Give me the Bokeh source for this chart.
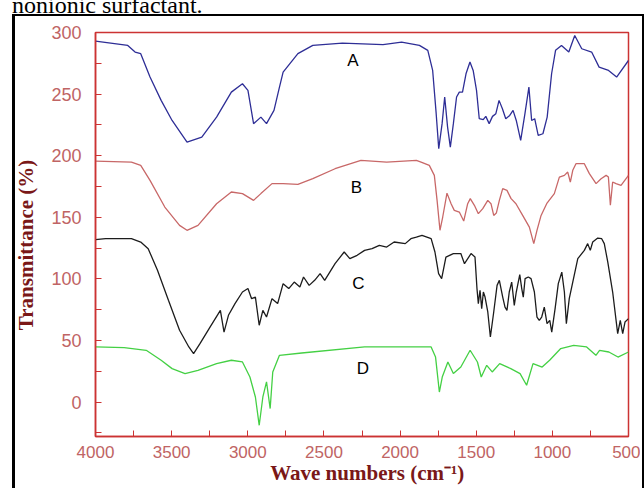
from bokeh.plotting import figure
from bokeh.models import Range1d, FixedTicker, ColumnDataSource, Div
from bokeh.layouts import column
from bokeh.embed import file_html
from bokeh.resources import INLINE

# ---- data ----
wA = [4000, 3788, 3740, 3703, 3642, 3569, 3497, 3399, 3302, 3205, 3108, 3035, 2999, 2962, 2914, 2877,
      2828, 2792, 2768, 2671, 2573, 2379, 2112, 1990, 1873, 1818, 1786, 1763, 1746, 1724, 1707, 1688,
      1670, 1650, 1629, 1611, 1590, 1567, 1541, 1520, 1498, 1480, 1454, 1437, 1415, 1393, 1371, 1350,
      1328, 1306, 1280, 1258, 1237, 1208, 1180, 1154, 1136, 1116, 1093, 1062, 1034, 1005, 979, 940,
      892, 853, 807, 742, 693, 631, 578, 500]
tA = [293, 289.5, 284.1, 282.8, 263.8, 244.9, 228.6, 211.0, 215.1, 231.3, 251.6, 258.4, 253.0, 226.0,
      231.3, 226.0, 236.8, 255.7, 267.8, 282.8, 289.5, 291.4, 290.1, 292.2, 289.5, 285.5, 269.2, 234.3,
      205.7, 226.0, 247.6, 223.2, 207.0, 226.0, 247.6, 251.6, 251.6, 266.5, 276.0, 269.2, 253.0, 230.0,
      229.2, 231.9, 226.0, 231.9, 234.1, 244.9, 238.1, 230.0, 232.7, 236.8, 228.6, 212.4, 234.1, 255.7,
      228.6, 230.0, 216.5, 217.8, 231.3, 266.5, 285.5, 289.5, 284.1, 297.6, 286.8, 284.1, 271.9, 269.2,
      263.8, 277.3]

wB = [4000, 3764, 3703, 3642, 3545, 3448, 3399, 3327, 3205, 3108, 3035, 2962, 2914, 2841, 2768, 2671,
      2573, 2427, 2257, 2088, 1893, 1862, 1808, 1775, 1757, 1738, 1720, 1692, 1665, 1644, 1611, 1582,
      1556, 1539, 1512, 1486, 1457, 1424, 1403, 1385, 1368, 1348, 1326, 1298, 1271, 1239, 1195, 1151,
      1122, 1101, 1074, 1035, 987, 954, 921, 899, 882, 866, 845, 790, 757, 713, 680, 647, 632, 619,
      604, 582, 549, 500]
tB = [195.6, 194.8, 192.1, 179.9, 158.3, 143.4, 139.4, 143.4, 161.0, 170.5, 169.2, 163.7, 169.2, 177.3,
      177.3, 176.7, 181.3, 189.4, 196.2, 194.8, 196.2, 194.8, 192.1, 184.0, 163.7, 139.4, 150.2, 169.6,
      161.0, 155.6, 154.2, 146.9, 161.0, 165.1, 159.7, 152.9, 157.0, 163.7, 161.0, 151.5, 153.4, 163.7,
      173.2, 171.8, 165.1, 161.0, 151.5, 142.0, 128.6, 139.4, 151.5, 161.5, 169.2, 182.6, 184.0, 186.7,
      178.6, 188.1, 193.5, 193.5, 185.4, 177.3, 181.3, 184.0, 182.6, 159.7, 178.6, 177.3, 175.9, 184.0]

wC = [4000, 3934, 3764, 3703, 3654, 3593, 3521, 3448, 3387, 3356, 3314, 3254, 3180, 3156, 3127, 3084,
      3035, 2999, 2975, 2950, 2925, 2901, 2877, 2841, 2804, 2768, 2731, 2695, 2658, 2634, 2597, 2561,
      2525, 2495, 2427, 2367, 2330, 2282, 2233, 2184, 2136, 2088, 2039, 1966, 1929, 1893, 1856, 1796,
      1771, 1747, 1727, 1699, 1650, 1601, 1577,
      1534, 1508, 1495, 1486, 1475, 1464, 1453, 1442, 1424, 1407, 1385, 1363, 1348, 1326, 1311, 1298,
      1283, 1267, 1250, 1237, 1214, 1201, 1191, 1179, 1158, 1140, 1118, 1101, 1086, 1070, 1053, 1035,
      1017, 1004, 982, 961, 938, 921, 908, 889, 866, 833, 790, 768, 751, 735, 702, 676, 659, 636,
      604, 571, 554, 538, 523, 500]
tC = [131.8, 132.6, 132.6, 129.9, 124.5, 106.9, 82.6, 58.3, 44.7, 39.3, 47.4, 59.6, 74.4, 56.8, 70.4,
      79.9, 89.3, 92.1, 83.9, 85.2, 62.3, 74.4, 69.0, 83.9, 79.9, 96.1, 92.1, 97.4, 93.4, 101.5, 94.7,
      98.8, 104.2, 98.8, 112.3, 121.8, 116.4, 119.1, 123.1, 124.5, 127.2, 125.8, 129.9, 128.6, 132.6,
      133.9, 135.3, 132.6, 121.8, 104.2, 100.2, 117.7, 120.5, 120.5, 112.3,
      120.5, 117.7, 92.1, 79.9, 90.7, 75.8, 89.3, 85.2, 73.1, 52.8, 73.1, 94.7, 98.8, 85.2, 77.1, 74.4,
      89.3, 97.4, 78.5, 89.3, 103.4, 92.1, 85.2, 100.2, 101.5, 100.2, 89.3, 69.0, 66.3, 69.0, 77.1,
      63.6, 66.3, 56.8, 75.8, 96.1, 105.5, 89.3, 63.6, 83.9, 97.4, 116.4, 123.1, 128.6, 123.1, 129.9,
      133.1, 132.6, 128.6, 113.6, 89.3, 55.5, 66.3, 55.5, 64.9, 67.7]

wD = [4000, 3812, 3667, 3569, 3497, 3412, 3327, 3205, 3108, 3035, 2986, 2950, 2925, 2901, 2877, 2853,
      2836, 2792, 2646, 2233, 1796, 1767, 1742, 1723, 1686, 1650, 1601, 1540, 1492, 1467, 1431, 1395,
      1346, 1273, 1212, 1169, 1127, 1067, 1018, 945, 860, 775, 714, 690, 629, 569, 500]
tD = [44.7, 44.2, 42.0, 33.9, 27.1, 23.1, 25.7, 31.2, 33.9, 32.5, 20.3, 4.1, -18.9, 4.1, 16.3, -5.3,
      24.4, 37.9, 39.8, 44.7, 44.7, 36.5, 8.1, 20.3, 32.5, 23.1, 28.4, 42.0, 32.5, 20.3, 29.8, 24.4,
      31.2, 27.1, 23.1, 13.6, 31.2, 28.4, 33.9, 43.4, 46.0, 44.7, 37.9, 42.0, 40.6, 36.5, 40.6]

series_names = ["A", "B", "C", "D"]
label_w = [2310, 2286, 2274, 2244]
label_t = [277, 174.5, 96, 27]

x_ticks = [4000, 3500, 3000, 2500, 2000, 1500, 1000, 500]
x_minor = [3750, 3250, 2750, 2250, 1750, 1250, 750]
y_ticks = [0, 50, 100, 150, 200, 250, 300]
y_minor = [-25, 25, 75, 125, 175, 225, 275]

caption = "nonionic surfactant."

# ---- styles ----
RED = "#cc3333"
TICK_COL = "#c06464"
LAB_COL = "#7a1818"
colors = ["#2e2e96", "#c86868", "#1c1c1c", "#44d044"]

p = figure(frame_width=533, frame_height=404,
           min_border_left=95, min_border_right=12, min_border_top=31, min_border_bottom=50,
           x_range=Range1d(4000, 500), y_range=Range1d(-28, 300),
           output_backend="svg", toolbar_location=None, background_fill_color="white",
           border_fill_alpha=0, margin=0)

p.xgrid.visible = False
p.ygrid.visible = False
p.outline_line_color = RED
p.outline_line_width = 1.5

for ws, ts, c in zip([wA, wB, wC, wD], [tA, tB, tC, tD], colors):
    p.line(ws, ts, line_color=c, line_width=1.3)

src = ColumnDataSource(dict(x=label_w, y=label_t, t=series_names))
p.text(x="x", y="y", text="t", source=src, text_font_size="17px",
       text_align="center", text_baseline="middle", text_color="black",
       text_font={"value": "Liberation Sans"})

# x axis
xa = p.xaxis[0]
xa.ticker = FixedTicker(ticks=x_ticks, minor_ticks=x_minor)
xa.axis_line_color = RED
xa.axis_line_width = 1.5
xa.major_tick_line_color = RED
xa.minor_tick_line_color = RED
xa.major_tick_in = 6
xa.major_tick_out = 0
xa.minor_tick_in = 6
xa.minor_tick_out = 0
xa.major_label_text_font = "Liberation Sans"
xa.major_label_text_font_size = "17px"
xa.major_label_text_color = TICK_COL
xa.major_label_standoff = 9
xa.axis_label = "\u00a0\u00a0Wave numbers (cm\u207b\u00b9)"
xa.axis_label_text_font = "Liberation Serif"
xa.axis_label_text_font_style = "bold"
xa.axis_label_text_font_size = "21px"
xa.axis_label_text_color = LAB_COL
xa.axis_label_standoff = 0

# y axis
ya = p.yaxis[0]
ya.ticker = FixedTicker(ticks=y_ticks, minor_ticks=y_minor)
ya.axis_line_color = RED
ya.axis_line_width = 1.5
ya.major_tick_line_color = RED
ya.minor_tick_line_color = RED
ya.major_tick_in = 6
ya.major_tick_out = 0
ya.minor_tick_in = 6
ya.minor_tick_out = 0
ya.major_label_text_font = "Liberation Sans"
ya.major_label_text_font_size = "18px"
ya.major_label_text_color = TICK_COL
ya.major_label_standoff = 14
ya.axis_label = "Transmittance (%)\u00a0\u00a0\u00a0\u00a0"
ya.axis_label_text_font = "Liberation Serif"
ya.axis_label_text_font_style = "bold"
ya.axis_label_text_font_size = "21px"
ya.axis_label_text_color = LAB_COL
ya.axis_label_standoff = 10

# caption (cut off at the top, as in the reference) and the black panel frame
html = (
    '<div style="position:absolute;left:12px;top:-7px;white-space:nowrap;'
    'font-family:\'Liberation Serif\',serif;font-size:24px;line-height:24px;color:#000;">'
    + caption + '</div>'
    '<div style="position:absolute;left:12px;top:14px;width:632px;height:474px;'
    'box-sizing:border-box;border-style:solid;border-color:#000;'
    'border-width:2px 2px 0 3px;pointer-events:none;"></div>'
)
top_div = Div(text=html, width=644, height=1, margin=0, styles={"overflow": "visible"})

layout = column(top_div, p, spacing=0, margin=0)

open("out.html", "w").write(file_html(layout, INLINE))
